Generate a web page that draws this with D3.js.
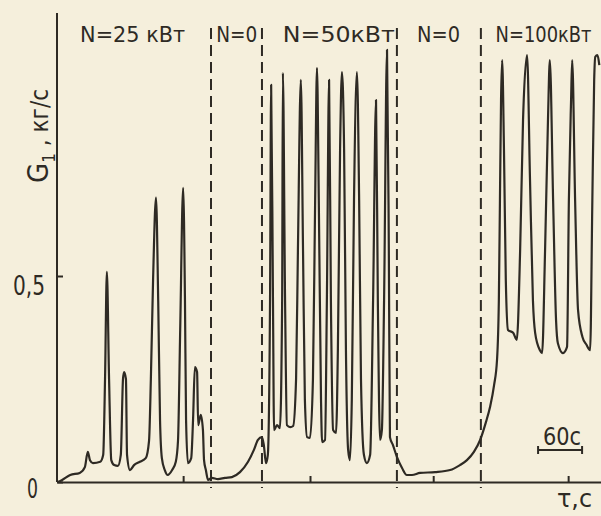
<!DOCTYPE html>
<html>
<head>
<meta charset="utf-8">
<script src="https://cdn.jsdelivr.net/npm/d3@7"></script>
<style>
  html, body { margin: 0; padding: 0; background: #f5efdc; }
  svg { display: block; }
  text { font-family: "Liberation Sans Narrow", "DejaVu Sans Condensed", "Liberation Sans", sans-serif; fill: #2e2a24; }
</style>
</head>
<body>
<div id="chart"></div>
<script>
// time, s
var tau = [
  1, 7, 18, 31, 38, 42, 45, 49, 59, 63, 65.5, 68, 71, 74, 78, 83, 87, 90, 91.5, 94, 95.5, 99.5,
  105, 113, 121, 125.5, 128, 131, 135, 138, 140.5, 143, 147, 151, 157, 162, 165, 168, 172, 174.5,
  176, 178.5, 183, 185.5, 188, 191, 192.5, 196, 199, 200.5, 203, 206,
  211, 219.5, 229, 238.5, 249.5, 260.5, 268.5, 274, 279.5,
  282, 285, 287.5, 290.5, 292, 294.5, 296, 300, 304, 307, 308, 311, 313.5, 318, 322, 326, 328.5,
  332.5, 335.5, 338, 341, 345, 349, 352, 354.5, 357, 360, 361.5, 365.5, 368, 371, 373.5, 376.5,
  380.5, 383, 386, 388.5, 391.5, 394, 397, 399.5, 402, 405, 409, 412, 414.5, 418.5, 422.5, 427,
  431, 435, 437.5, 440.5, 443, 446, 450, 452.5, 454, 458, 463.5,
  470.5, 477, 484, 495, 515.5, 536, 549.5, 559, 568.5, 577,
  585, 590.5, 596, 600, 602.5, 604, 605.5, 607, 609.5, 612, 615, 622, 627, 631.5, 635.5, 641, 645,
  649, 652, 658.5, 661.5, 665.5, 669.5, 672, 676.5, 680.5, 683, 690, 695.5, 698, 701, 702.5, 706.5,
  710.5, 716.5, 722, 727, 730, 732.5, 734, 737, 739.5
];

// G1, kg/s
var flow = [
  0, 0.005, 0.017, 0.022, 0.036, 0.073, 0.053, 0.046, 0.049, 0.066, 0.25, 0.51, 0.25, 0.053, 0.041, 0.039, 0.066, 0.25, 0.267, 0.25, 0.066, 0.029,
  0.041, 0.049, 0.058, 0.10, 0.25, 0.49, 0.69, 0.44, 0.15, 0.058, 0.029, 0.017, 0.029, 0.049, 0.10, 0.37, 0.714, 0.44,
  0.15, 0.046, 0.058, 0.15, 0.279, 0.267, 0.138, 0.163, 0.126, 0.053, 0.029, 0.005,
  0.01, 0.007, 0.01, 0.012, 0.024, 0.049, 0.078, 0.102, 0.109,
  0.09, 0.046, 0.066, 0.44, 0.964, 0.44, 0.126, 0.138, 0.131, 0.44, 0.993, 0.44, 0.138, 0.133, 0.136, 0.25, 0.56,
  0.976, 0.56, 0.2, 0.109, 0.107, 0.25, 0.684, 1.005, 0.684, 0.2, 0.097, 0.102, 0.44, 0.976, 0.44, 0.126,
  0.119, 0.32, 0.806, 0.995, 0.806, 0.32, 0.078, 0.053, 0.2, 0.684, 0.995, 0.684, 0.25, 0.066, 0.046, 0.066,
  0.44, 0.927, 0.44, 0.102, 0.126, 0.44, 1.049, 0.56, 0.109, 0.09, 0.061,
  0.034, 0.017, 0.017, 0.022, 0.024, 0.029, 0.041, 0.053, 0.073, 0.102,
  0.146, 0.182, 0.235, 0.296, 0.44, 0.684, 0.927, 1.024, 0.806, 0.49, 0.369, 0.362, 0.345, 0.56, 0.879, 1.036, 0.733,
  0.44, 0.362, 0.32, 0.313, 0.56, 0.879, 1.024, 0.684, 0.393, 0.337, 0.313, 0.328, 0.684, 0.927, 1.024, 0.684,
  0.417, 0.352, 0.333, 0.32, 0.684, 0.976, 1.032, 1.036, 1.012
];

var regimeBounds = [210, 279.5, 463.5, 578];
var regimeLabels = ["N=25 кВт", "N=0", "N=50кВт", "N=0", "N=100кВт"];
var labelStart = [31.5, 217, 308, 491, 598];
var labelWidth = [105, 41, 112, 43, 96];
var yTicks = [0, 0.5];
var xTicks = [172, 345, 513, 697];
var scaleBar = [656, 716];

var width = 601, height = 516;
var margin = { top: 13, right: 0, bottom: 34, left: 57 };
var ink = "#2e2a24";

var x = d3.scaleLinear().domain([0, 741.8]).range([margin.left, width]);
var y = d3.scaleLinear().domain([0, 1]).range([height - margin.bottom, 70]);

var svg = d3.select("#chart").append("svg")
    .attr("width", width)
    .attr("height", height);

svg.append("rect").attr("width", width).attr("height", height).attr("fill", "#f5efdc");

svg.append("clipPath").attr("id", "plot")
    .append("rect")
    .attr("x", margin.left).attr("y", 0)
    .attr("width", width - margin.left).attr("height", y(0) + 1);

// dashed regime boundaries
svg.selectAll(".bound")
    .data(regimeBounds)
    .enter().append("line")
    .attr("class", "bound")
    .attr("x1", function (d) { return x(d); })
    .attr("x2", function (d) { return x(d); })
    .attr("y1", 28)
    .attr("y2", y(0) + 6)
    .attr("stroke", ink)
    .attr("stroke-width", 2)
    .attr("stroke-dasharray", "11,6");

// axes
var yAxis = d3.axisLeft(y).tickValues(yTicks).tickSizeInner(-6).tickSizeOuter(0)
    .tickFormat(function (d) { return String(d).replace(".", ","); });
var xAxis = d3.axisBottom(x).tickValues(xTicks).tickSizeInner(-6).tickSizeOuter(0).tickFormat("");

var gx = svg.append("g")
    .attr("transform", "translate(0," + y(0) + ")")
    .call(xAxis);
gx.select(".domain").attr("stroke", ink).attr("stroke-width", 2);
gx.selectAll(".tick line").attr("stroke", ink).attr("stroke-width", 2);

var gy = svg.append("g")
    .attr("transform", "translate(" + margin.left + ",0)")
    .call(yAxis);
gy.select(".domain").remove();
gy.append("line")
    .attr("x1", 0).attr("x2", 0)
    .attr("y1", margin.top).attr("y2", y(0))
    .attr("stroke", ink).attr("stroke-width", 2);
gy.selectAll(".tick line").attr("stroke", ink).attr("stroke-width", 2);
gy.selectAll(".tick text")
    .style("font-size", "26px")
    .attr("fill", ink)
    .attr("x", function (d) { return d === 0 ? -19 : -12; })
    .attr("dy", function (d) { return d === 0 ? "0.6em" : "0.72em"; })
    .attr("textLength", function (d) { return d === 0 ? 11 : 32; })
    .attr("lengthAdjust", "spacingAndGlyphs");

// curve
var line = d3.line()
    .x(function (i) { return x(tau[i]); })
    .y(function (i) { return y(flow[i]); })
    .curve(d3.curveMonotoneX);

svg.append("path")
    .datum(d3.range(tau.length))
    .attr("clip-path", "url(#plot)")
    .attr("d", line)
    .attr("fill", "none")
    .attr("stroke", ink)
    .attr("stroke-width", 2.2)
    .attr("stroke-linejoin", "round");

// regime labels
svg.selectAll(".regime")
    .data(regimeLabels)
    .enter().append("text")
    .attr("class", "regime")
    .attr("x", function (d, i) { return x(labelStart[i]); })
    .attr("y", 42)
    .style("font-size", "22px")
    .attr("textLength", function (d, i) { return labelWidth[i]; })
    .attr("lengthAdjust", "spacingAndGlyphs")
    .text(function (d) { return d; });

// y label
var yl = svg.append("text")
    .attr("transform", "translate(48,183) rotate(-90)");
yl.append("tspan").style("font-size", "29px").text("G");
yl.append("tspan").style("font-size", "17px").attr("dy", 7).text("1");
yl.append("tspan").style("font-size", "24px").attr("dy", -7).text(" , кг/с");

// time label
svg.append("text")
    .attr("x", 557).attr("y", 507)
    .style("font-size", "25px")
    .attr("textLength", 35)
    .attr("lengthAdjust", "spacingAndGlyphs")
    .text("τ,с");

// 60 s scale bar
var bar = svg.append("g");
bar.append("line")
    .attr("x1", x(scaleBar[0])).attr("x2", x(scaleBar[1]))
    .attr("y1", 450).attr("y2", 450)
    .attr("stroke", ink).attr("stroke-width", 2);
bar.selectAll(".cap")
    .data(scaleBar)
    .enter().append("line")
    .attr("x1", function (d) { return x(d); })
    .attr("x2", function (d) { return x(d); })
    .attr("y1", 446).attr("y2", 454)
    .attr("stroke", ink).attr("stroke-width", 2);
bar.append("text")
    .attr("x", x(scaleBar[0]) + 5).attr("y", 445)
    .style("font-size", "24px")
    .attr("textLength", 38)
    .attr("lengthAdjust", "spacingAndGlyphs")
    .text((scaleBar[1] - scaleBar[0]) + "с");
</script>
</body>
</html>
